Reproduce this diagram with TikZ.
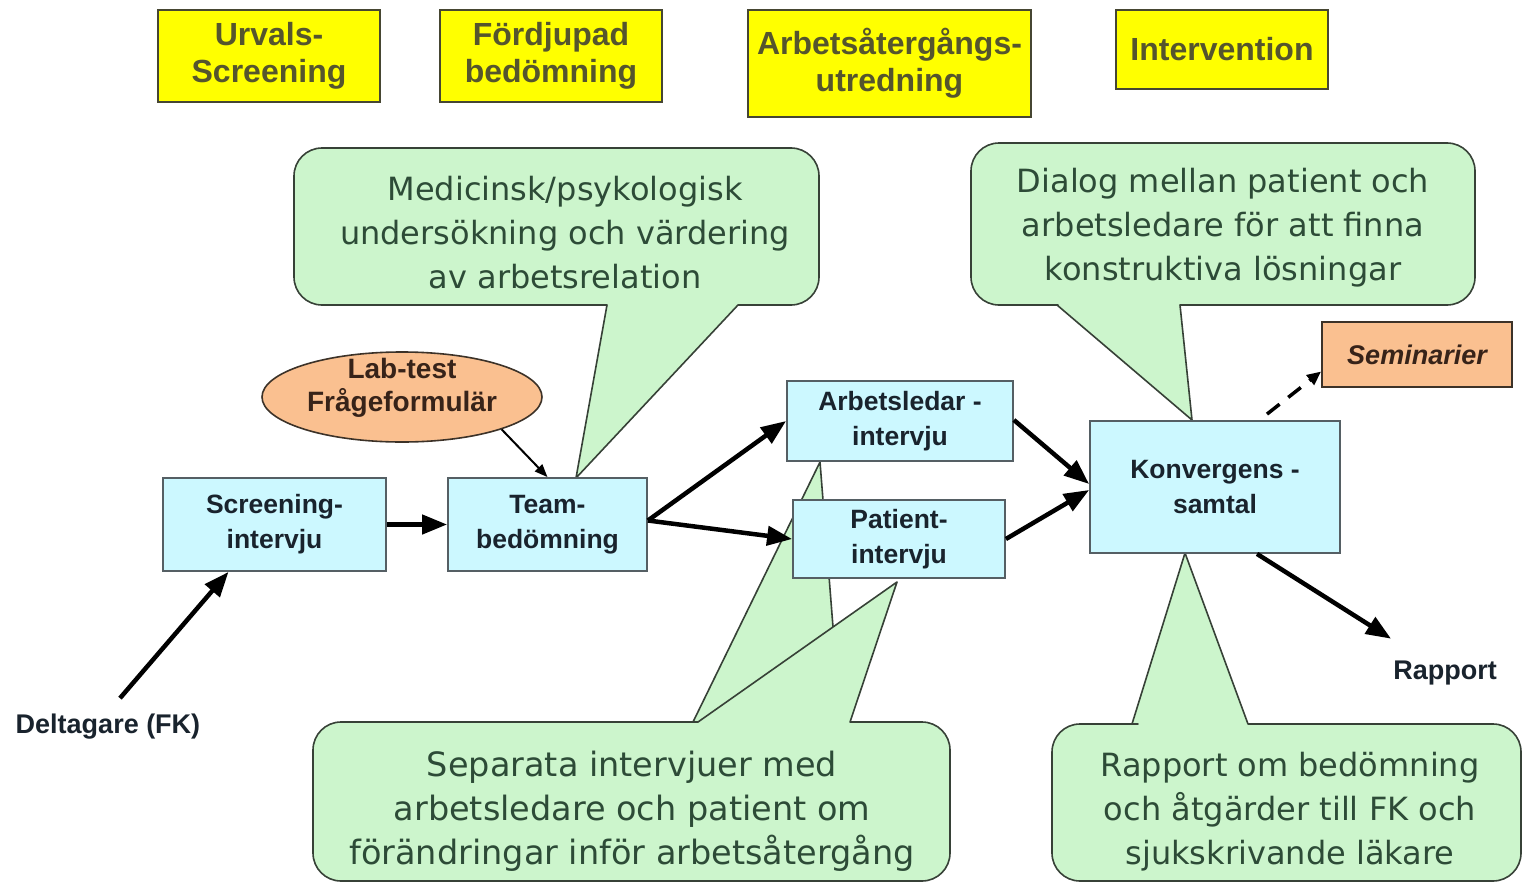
\documentclass[tikz,border=0pt]{standalone}
\usepackage{fontspec}
\setmainfont{Liberation Sans}
\newfontfamily\calfont{DejaVu Sans}
\usetikzlibrary{arrows.meta,shapes.geometric,calc}
\definecolor{yel}{RGB}{255,255,0}
\definecolor{ydraw}{RGB}{70,70,50}
\definecolor{ytext}{RGB}{85,85,45}
\definecolor{bfill}{RGB}{204,248,255}
\definecolor{bdraw}{RGB}{85,95,100}
\definecolor{btext}{RGB}{25,35,45}
\definecolor{cfill}{RGB}{204,245,204}
\definecolor{cdraw}{RGB}{55,65,55}
\definecolor{ctextc}{RGB}{45,75,55}
\definecolor{ofill}{RGB}{250,192,144}
\definecolor{odraw}{RGB}{60,50,40}
\definecolor{otext}{RGB}{55,35,25}
\begin{document}
\begin{tikzpicture}[x=1pt,y=-1pt,
  ybox/.style={draw=ydraw,line width=2pt,fill=yel,text=ytext,inner sep=0pt,align=center,font=\fontsize{32}{37}\selectfont\bfseries},
  bbox/.style={draw=bdraw,line width=1.8pt,fill=bfill,text=btext,inner sep=0pt,align=center,font=\fontsize{26.5}{35}\selectfont\bfseries},
  callout/.style={draw=cdraw,line width=1.6pt,fill=cfill,line join=round},
  ctext/.style={text=ctextc,align=center,inner sep=0pt,font=\calfont\fontsize{32}{44}\selectfont},
  arr/.style={line width=4.5pt,-{Triangle[length=25pt,width=19pt]}},
  thinarr/.style={line width=2pt,-{Triangle[length=13pt,width=10pt]}},
  dasharr/.style={line width=3.5pt,dash pattern=on 16pt off 11pt,-{Triangle[length=14pt,width=12pt]}},
  lbl/.style={font=\fontsize{27}{32}\selectfont\bfseries,text=btext,inner sep=0pt}
]
\fill[white] (0,0) rectangle (1526,883);
\useasboundingbox (0,0) rectangle (1526,883);

% phase boxes
\node[ybox,minimum width=222pt,minimum height=92pt] (y1) at (269,56) {Urvals-\\Screening};
\node[ybox,minimum width=222pt,minimum height=92pt] (y2) at (551,56) {Fördjupad\\bedömning};
\node[ybox,minimum width=283pt,minimum height=107pt] (y3) at (889.5,63.5) {Arbetsåtergångs-\\utredning};
\node[ybox,minimum width=212pt,minimum height=79pt] (y4) at (1222,49.5) {Intervention};

% callouts
\path[callout] (607,305) -- (576,478) -- (738,305) -- (760,305) [rounded corners=28pt] -- (819,305) -- (819,148) -- (294,148) -- (294,305) -- (560,305) [sharp corners] -- (607,305) -- cycle;
\node[ctext] (med) at (565,233) {Medicinsk/psykologisk\\undersökning och värdering\\av arbetsrelation};

\path[callout] (1057,305) -- (1192,420) -- (1180,305) -- (1200,305) [rounded corners=28pt] -- (1475,305) -- (1475,143) -- (971,143) -- (971,305) -- (1030,305) [sharp corners] -- (1057,305) -- cycle;
\node[ctext] (dia) at (1223,228) {Dialog mellan patient och\\arbetsledare för att finna\\konstruktiva lösningar};

\path[callout] (693,722) -- (820,462) -- (833,627) -- (897,582) -- (850,722) -- (870,722) [rounded corners=28pt] -- (950,722) -- (950,881) -- (313,881) -- (313,722) -- (670,722) [sharp corners] -- (693,722) -- cycle;
\draw[cdraw,line width=1.6pt] (833,627) -- (698,722);
\node[ctext,font=\calfont\fontsize{33.5}{44}\selectfont] (sep) at (632,811) {Separata intervjuer med\\arbetsledare och patient om\\förändringar inför arbetsåtergång};

\path[callout] (1132,724) -- (1185,553) -- (1248,724) -- (1270,724) [rounded corners=28pt] -- (1521,724) -- (1521,881) -- (1052,881) -- (1052,724) -- (1110,724) [sharp corners] -- (1132,724) -- cycle;
\node[ctext] (rom) at (1290,812) {Rapport om bedömning\\och åtgärder till FK och\\sjukskrivande läkare};

% process boxes
\node[bbox,minimum width=223pt,minimum height=93pt] (scr) at (274.5,524.5) {Screening-\\intervju};
\node[bbox,minimum width=199pt,minimum height=93pt] (team) at (547.5,524.5) {Team-\\bedömning};
\node[bbox,minimum width=226pt,minimum height=80pt] (arb) at (900,421) {Arbetsledar -\\intervju};
\node[bbox,minimum width=212pt,minimum height=78pt] (pat) at (899,539) {Patient-\\intervju};
\node[bbox,minimum width=250pt,minimum height=132pt] (konv) at (1215,487) {Konvergens -\\samtal};
\node[draw=odraw,line width=1.8pt,fill=ofill,minimum width=190pt,minimum height=65pt,inner sep=0pt,text=otext,font=\fontsize{27}{32}\selectfont\bfseries\itshape] (sem) at (1417,354.5) {Seminarier};
\node[ellipse,draw=odraw,line width=1.6pt,fill=ofill,minimum width=280pt,minimum height=90pt,inner sep=0pt] (lab) at (402,397) {};
\node[align=center,inner sep=0pt,text=otext,font=\fontsize{28}{33}\selectfont\bfseries] (labt) at (402,388) {Lab-test\\Frågeformulär};

% free labels
\node[lbl] (delt) at (108,727) {Deltagare (FK)};
\node[lbl] (rap) at (1445,673) {Rapport};

% connectors
\draw[arr] (scr.east) -- (team.west);
\draw[arr] ([yshift=4pt]team.east) -- (arb.west);
\draw[arr] ([yshift=4pt]team.east) -- (pat.west);
\draw[arr] ([yshift=1pt]arb.east) -- ([yshift=3pt]konv.west);
\draw[arr] (pat.east) -- ([yshift=-3pt]konv.west);
\draw[arr] ([xshift=12pt,yshift=16pt]delt.north) -- ([xshift=-46pt]scr.south);
\draw[arr] ([xshift=42pt]konv.south) -- ([xshift=-2pt,yshift=22pt]rap.north west);
\draw[thinarr] (lab.-18) -- (team.north);
\draw[dasharr] ([xshift=52pt,yshift=6pt]konv.north) -- ([yshift=-17pt]sem.west);
\end{tikzpicture}
\end{document}
